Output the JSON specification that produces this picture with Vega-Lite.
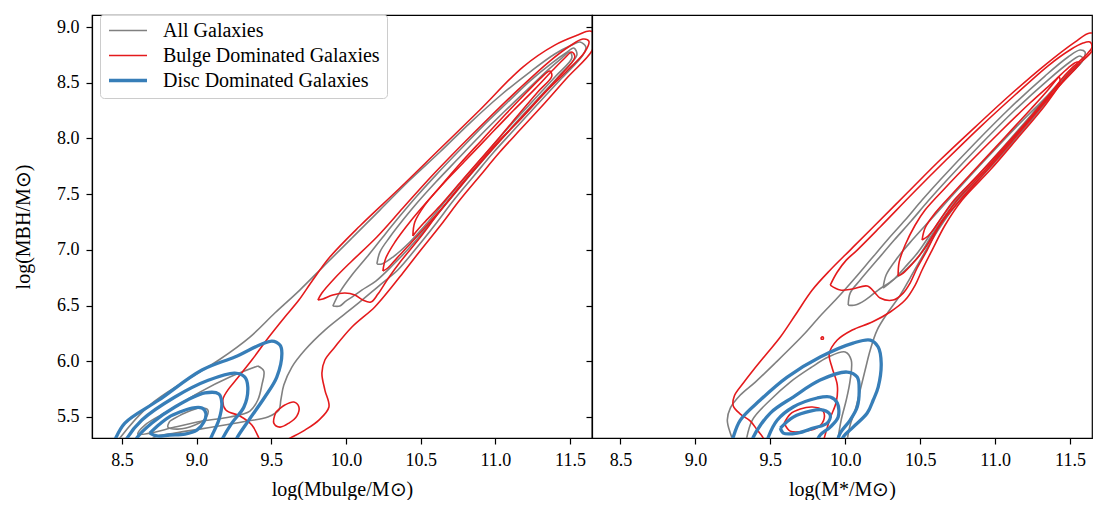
{
"$schema":"https://vega.github.io/schema/vega-lite/v6.json",
"padding":{"left":12,"top":12,"right":9,"bottom":0},
"bounds":"flush",
"spacing":0,
"config":{
"font":"Liberation Serif",
"view":{"stroke":"black","strokeWidth":1.2},
"axis":{"labelFont":"Liberation Serif","titleFont":"Liberation Serif","labelFontSize":18,"titleFontSize":20,"titleFontWeight":"normal","labelColor":"black","titleColor":"black","tickColor":"black","domainColor":"black","tickSize":6,"tickWidth":1.2,"domainWidth":1.2,"grid":false},
"axisX":{"labelPadding":7,"titlePadding":10},
"axisY":{"labelPadding":7,"titlePadding":23}
},
"datasets":{"c":[
{"p":"L","g":"A","id":"LG1","o":0,"x":8.453,"y":5.239},{"p":"L","g":"A","id":"LG1","o":1,"x":8.487,"y":5.311},{"p":"L","g":"A","id":"LG1","o":2,"x":8.687,"y":5.607},{"p":"L","g":"A","id":"LG1","o":3,"x":8.922,"y":5.822},{"p":"L","g":"A","id":"LG1","o":4,"x":9.149,"y":6.011},{"p":"L","g":"A","id":"LG1","o":5,"x":9.357,"y":6.217},{"p":"L","g":"A","id":"LG1","o":6,"x":9.524,"y":6.433},{"p":"L","g":"A","id":"LG1","o":7,"x":9.691,"y":6.639},{"p":"L","g":"A","id":"LG1","o":8,"x":9.859,"y":6.864},{"p":"L","g":"A","id":"LG1","o":9,"x":10.040,"y":7.106},{"p":"L","g":"A","id":"LG1","o":10,"x":10.227,"y":7.357},{"p":"L","g":"A","id":"LG1","o":11,"x":10.428,"y":7.627},{"p":"L","g":"A","id":"LG1","o":12,"x":10.629,"y":7.878},{"p":"L","g":"A","id":"LG1","o":13,"x":10.829,"y":8.138},{"p":"L","g":"A","id":"LG1","o":14,"x":11.030,"y":8.381},{"p":"L","g":"A","id":"LG1","o":15,"x":11.231,"y":8.596},{"p":"L","g":"A","id":"LG1","o":16,"x":11.398,"y":8.758},{"p":"L","g":"A","id":"LG1","o":17,"x":11.512,"y":8.838},{"p":"L","g":"A","id":"LG1","o":18,"x":11.566,"y":8.865},{"p":"L","g":"A","id":"LG1","o":19,"x":11.606,"y":8.821},{"p":"L","g":"A","id":"LG1","o":20,"x":11.586,"y":8.749},{"p":"L","g":"A","id":"LG1","o":21,"x":11.445,"y":8.542},{"p":"L","g":"A","id":"LG1","o":22,"x":11.284,"y":8.309},{"p":"L","g":"A","id":"LG1","o":23,"x":11.124,"y":8.075},{"p":"L","g":"A","id":"LG1","o":24,"x":10.990,"y":7.878},{"p":"L","g":"A","id":"LG1","o":25,"x":10.856,"y":7.663},{"p":"L","g":"A","id":"LG1","o":26,"x":10.722,"y":7.447},{"p":"L","g":"A","id":"LG1","o":27,"x":10.595,"y":7.223},{"p":"L","g":"A","id":"LG1","o":28,"x":10.461,"y":6.998},{"p":"L","g":"A","id":"LG1","o":29,"x":10.347,"y":6.819},{"p":"L","g":"A","id":"LG1","o":30,"x":10.227,"y":6.684},{"p":"L","g":"A","id":"LG1","o":31,"x":10.060,"y":6.496},{"p":"L","g":"A","id":"LG1","o":32,"x":9.859,"y":6.280},{"p":"L","g":"A","id":"LG1","o":33,"x":9.725,"y":6.101},{"p":"L","g":"A","id":"LG1","o":34,"x":9.638,"y":5.948},{"p":"L","g":"A","id":"LG1","o":35,"x":9.584,"y":5.786},{"p":"L","g":"A","id":"LG1","o":36,"x":9.564,"y":5.652},{"p":"L","g":"A","id":"LG1","o":37,"x":9.551,"y":5.562},{"p":"L","g":"A","id":"LG1","o":38,"x":9.477,"y":5.499},{"p":"L","g":"A","id":"LG1","o":39,"x":9.343,"y":5.463},{"p":"L","g":"A","id":"LG1","o":40,"x":9.189,"y":5.427},{"p":"L","g":"A","id":"LG1","o":41,"x":9.022,"y":5.391},{"p":"L","g":"A","id":"LG1","o":42,"x":8.855,"y":5.355},{"p":"L","g":"A","id":"LG1","o":43,"x":8.721,"y":5.320},{"p":"L","g":"A","id":"LG1","o":44,"x":8.654,"y":5.239},
{"p":"L","g":"A","id":"LG2","o":0,"x":9.912,"y":6.496},{"p":"L","g":"A","id":"LG2","o":1,"x":9.959,"y":6.621},{"p":"L","g":"A","id":"LG2","o":2,"x":10.040,"y":6.774},{"p":"L","g":"A","id":"LG2","o":3,"x":10.140,"y":6.935},{"p":"L","g":"A","id":"LG2","o":4,"x":10.247,"y":7.115},{"p":"L","g":"A","id":"LG2","o":5,"x":10.361,"y":7.303},{"p":"L","g":"A","id":"LG2","o":6,"x":10.475,"y":7.483},{"p":"L","g":"A","id":"LG2","o":7,"x":10.602,"y":7.671},{"p":"L","g":"A","id":"LG2","o":8,"x":10.749,"y":7.878},{"p":"L","g":"A","id":"LG2","o":9,"x":10.910,"y":8.102},{"p":"L","g":"A","id":"LG2","o":10,"x":11.077,"y":8.318},{"p":"L","g":"A","id":"LG2","o":11,"x":11.231,"y":8.515},{"p":"L","g":"A","id":"LG2","o":12,"x":11.378,"y":8.677},{"p":"L","g":"A","id":"LG2","o":13,"x":11.472,"y":8.767},{"p":"L","g":"A","id":"LG2","o":14,"x":11.525,"y":8.812},{"p":"L","g":"A","id":"LG2","o":15,"x":11.546,"y":8.749},{"p":"L","g":"A","id":"LG2","o":16,"x":11.432,"y":8.569},{"p":"L","g":"A","id":"LG2","o":17,"x":11.278,"y":8.345},{"p":"L","g":"A","id":"LG2","o":18,"x":11.124,"y":8.120},{"p":"L","g":"A","id":"LG2","o":19,"x":10.977,"y":7.896},{"p":"L","g":"A","id":"LG2","o":20,"x":10.843,"y":7.689},{"p":"L","g":"A","id":"LG2","o":21,"x":10.709,"y":7.474},{"p":"L","g":"A","id":"LG2","o":22,"x":10.575,"y":7.259},{"p":"L","g":"A","id":"LG2","o":23,"x":10.441,"y":7.043},{"p":"L","g":"A","id":"LG2","o":24,"x":10.314,"y":6.864},{"p":"L","g":"A","id":"LG2","o":25,"x":10.200,"y":6.720},{"p":"L","g":"A","id":"LG2","o":26,"x":10.106,"y":6.639},{"p":"L","g":"A","id":"LG2","o":27,"x":10.040,"y":6.576},{"p":"L","g":"A","id":"LG2","o":28,"x":9.999,"y":6.540},{"p":"L","g":"A","id":"LG2","o":29,"x":9.959,"y":6.496},{"p":"L","g":"A","id":"LG2","o":30,"x":9.912,"y":6.496},
{"p":"L","g":"A","id":"LG2b","o":0,"x":9.410,"y":5.957},{"p":"L","g":"A","id":"LG2b","o":1,"x":9.450,"y":5.912},{"p":"L","g":"A","id":"LG2b","o":2,"x":9.437,"y":5.786},{"p":"L","g":"A","id":"LG2b","o":3,"x":9.410,"y":5.652},{"p":"L","g":"A","id":"LG2b","o":4,"x":9.357,"y":5.553},{"p":"L","g":"A","id":"LG2b","o":5,"x":9.223,"y":5.499},{"p":"L","g":"A","id":"LG2b","o":6,"x":9.042,"y":5.463},{"p":"L","g":"A","id":"LG2b","o":7,"x":8.855,"y":5.409},{"p":"L","g":"A","id":"LG2b","o":8,"x":8.687,"y":5.355},{"p":"L","g":"A","id":"LG2b","o":9,"x":8.607,"y":5.346},{"p":"L","g":"A","id":"LG2b","o":10,"x":8.654,"y":5.427},{"p":"L","g":"A","id":"LG2b","o":11,"x":8.821,"y":5.562},{"p":"L","g":"A","id":"LG2b","o":12,"x":9.022,"y":5.723},{"p":"L","g":"A","id":"LG2b","o":13,"x":9.223,"y":5.858},{"p":"L","g":"A","id":"LG2b","o":14,"x":9.410,"y":5.957},
{"p":"L","g":"A","id":"LG3","o":0,"x":10.207,"y":6.873},{"p":"L","g":"A","id":"LG3","o":1,"x":10.227,"y":6.980},{"p":"L","g":"A","id":"LG3","o":2,"x":10.294,"y":7.115},{"p":"L","g":"A","id":"LG3","o":3,"x":10.381,"y":7.267},{"p":"L","g":"A","id":"LG3","o":4,"x":10.481,"y":7.429},{"p":"L","g":"A","id":"LG3","o":5,"x":10.602,"y":7.609},{"p":"L","g":"A","id":"LG3","o":6,"x":10.742,"y":7.806},{"p":"L","g":"A","id":"LG3","o":7,"x":10.896,"y":8.022},{"p":"L","g":"A","id":"LG3","o":8,"x":11.064,"y":8.246},{"p":"L","g":"A","id":"LG3","o":9,"x":11.218,"y":8.443},{"p":"L","g":"A","id":"LG3","o":10,"x":11.351,"y":8.614},{"p":"L","g":"A","id":"LG3","o":11,"x":11.445,"y":8.722},{"p":"L","g":"A","id":"LG3","o":12,"x":11.499,"y":8.776},{"p":"L","g":"A","id":"LG3","o":13,"x":11.512,"y":8.722},{"p":"L","g":"A","id":"LG3","o":14,"x":11.405,"y":8.560},{"p":"L","g":"A","id":"LG3","o":15,"x":11.251,"y":8.336},{"p":"L","g":"A","id":"LG3","o":16,"x":11.097,"y":8.111},{"p":"L","g":"A","id":"LG3","o":17,"x":10.956,"y":7.896},{"p":"L","g":"A","id":"LG3","o":18,"x":10.823,"y":7.689},{"p":"L","g":"A","id":"LG3","o":19,"x":10.689,"y":7.474},{"p":"L","g":"A","id":"LG3","o":20,"x":10.555,"y":7.259},{"p":"L","g":"A","id":"LG3","o":21,"x":10.428,"y":7.070},{"p":"L","g":"A","id":"LG3","o":22,"x":10.314,"y":6.935},{"p":"L","g":"A","id":"LG3","o":23,"x":10.240,"y":6.873},{"p":"L","g":"A","id":"LG3","o":24,"x":10.207,"y":6.873},
{"p":"L","g":"A","id":"LG3b","o":0,"x":8.821,"y":5.463},{"p":"L","g":"A","id":"LG3b","o":1,"x":8.922,"y":5.535},{"p":"L","g":"A","id":"LG3b","o":2,"x":9.022,"y":5.580},{"p":"L","g":"A","id":"LG3b","o":3,"x":9.076,"y":5.562},{"p":"L","g":"A","id":"LG3b","o":4,"x":9.062,"y":5.490},{"p":"L","g":"A","id":"LG3b","o":5,"x":8.989,"y":5.427},{"p":"L","g":"A","id":"LG3b","o":6,"x":8.875,"y":5.391},{"p":"L","g":"A","id":"LG3b","o":7,"x":8.808,"y":5.409},{"p":"L","g":"A","id":"LG3b","o":8,"x":8.821,"y":5.463},
{"p":"L","g":"B","id":"LR1","o":0,"x":9.437,"y":5.248},{"p":"L","g":"B","id":"LR1","o":1,"x":9.417,"y":5.311},{"p":"L","g":"B","id":"LR1","o":2,"x":9.370,"y":5.427},{"p":"L","g":"B","id":"LR1","o":3,"x":9.290,"y":5.508},{"p":"L","g":"B","id":"LR1","o":4,"x":9.196,"y":5.562},{"p":"L","g":"B","id":"LR1","o":5,"x":9.176,"y":5.652},{"p":"L","g":"B","id":"LR1","o":6,"x":9.209,"y":5.741},{"p":"L","g":"B","id":"LR1","o":7,"x":9.263,"y":5.831},{"p":"L","g":"B","id":"LR1","o":8,"x":9.370,"y":6.011},{"p":"L","g":"B","id":"LR1","o":9,"x":9.484,"y":6.217},{"p":"L","g":"B","id":"LR1","o":10,"x":9.591,"y":6.397},{"p":"L","g":"B","id":"LR1","o":11,"x":9.685,"y":6.549},{"p":"L","g":"B","id":"LR1","o":12,"x":9.778,"y":6.729},{"p":"L","g":"B","id":"LR1","o":13,"x":9.892,"y":6.935},{"p":"L","g":"B","id":"LR1","o":14,"x":10.093,"y":7.214},{"p":"L","g":"B","id":"LR1","o":15,"x":10.361,"y":7.555},{"p":"L","g":"B","id":"LR1","o":16,"x":10.635,"y":7.914},{"p":"L","g":"B","id":"LR1","o":17,"x":10.896,"y":8.255},{"p":"L","g":"B","id":"LR1","o":18,"x":11.184,"y":8.641},{"p":"L","g":"B","id":"LR1","o":19,"x":11.398,"y":8.838},{"p":"L","g":"B","id":"LR1","o":20,"x":11.552,"y":8.928},{"p":"L","g":"B","id":"LR1","o":21,"x":11.633,"y":8.964},{"p":"L","g":"B","id":"LR1","o":22,"x":11.673,"y":8.919},{"p":"L","g":"B","id":"LR1","o":23,"x":11.646,"y":8.785},{"p":"L","g":"B","id":"LR1","o":24,"x":11.485,"y":8.551},{"p":"L","g":"B","id":"LR1","o":25,"x":11.331,"y":8.318},{"p":"L","g":"B","id":"LR1","o":26,"x":11.164,"y":8.075},{"p":"L","g":"B","id":"LR1","o":27,"x":11.030,"y":7.878},{"p":"L","g":"B","id":"LR1","o":28,"x":10.896,"y":7.663},{"p":"L","g":"B","id":"LR1","o":29,"x":10.762,"y":7.447},{"p":"L","g":"B","id":"LR1","o":30,"x":10.635,"y":7.223},{"p":"L","g":"B","id":"LR1","o":31,"x":10.501,"y":6.998},{"p":"L","g":"B","id":"LR1","o":32,"x":10.381,"y":6.792},{"p":"L","g":"B","id":"LR1","o":33,"x":10.301,"y":6.657},{"p":"L","g":"B","id":"LR1","o":34,"x":10.193,"y":6.487},{"p":"L","g":"B","id":"LR1","o":35,"x":10.040,"y":6.307},{"p":"L","g":"B","id":"LR1","o":36,"x":9.926,"y":6.128},{"p":"L","g":"B","id":"LR1","o":37,"x":9.859,"y":6.011},{"p":"L","g":"B","id":"LR1","o":38,"x":9.839,"y":5.894},{"p":"L","g":"B","id":"LR1","o":39,"x":9.859,"y":5.741},{"p":"L","g":"B","id":"LR1","o":40,"x":9.886,"y":5.589},{"p":"L","g":"B","id":"LR1","o":41,"x":9.819,"y":5.472},{"p":"L","g":"B","id":"LR1","o":42,"x":9.725,"y":5.382},{"p":"L","g":"B","id":"LR1","o":43,"x":9.604,"y":5.293},{"p":"L","g":"B","id":"LR1","o":44,"x":9.558,"y":5.248},
{"p":"L","g":"B","id":"LR2","o":0,"x":9.812,"y":6.549},{"p":"L","g":"B","id":"LR2","o":1,"x":9.839,"y":6.612},{"p":"L","g":"B","id":"LR2","o":2,"x":9.926,"y":6.747},{"p":"L","g":"B","id":"LR2","o":3,"x":10.026,"y":6.882},{"p":"L","g":"B","id":"LR2","o":4,"x":10.207,"y":7.115},{"p":"L","g":"B","id":"LR2","o":5,"x":10.381,"y":7.375},{"p":"L","g":"B","id":"LR2","o":6,"x":10.562,"y":7.645},{"p":"L","g":"B","id":"LR2","o":7,"x":10.762,"y":7.923},{"p":"L","g":"B","id":"LR2","o":8,"x":10.963,"y":8.192},{"p":"L","g":"B","id":"LR2","o":9,"x":11.164,"y":8.452},{"p":"L","g":"B","id":"LR2","o":10,"x":11.365,"y":8.695},{"p":"L","g":"B","id":"LR2","o":11,"x":11.499,"y":8.830},{"p":"L","g":"B","id":"LR2","o":12,"x":11.586,"y":8.892},{"p":"L","g":"B","id":"LR2","o":13,"x":11.626,"y":8.874},{"p":"L","g":"B","id":"LR2","o":14,"x":11.599,"y":8.776},{"p":"L","g":"B","id":"LR2","o":15,"x":11.485,"y":8.614},{"p":"L","g":"B","id":"LR2","o":16,"x":11.331,"y":8.408},{"p":"L","g":"B","id":"LR2","o":17,"x":11.164,"y":8.165},{"p":"L","g":"B","id":"LR2","o":18,"x":11.010,"y":7.959},{"p":"L","g":"B","id":"LR2","o":19,"x":10.876,"y":7.752},{"p":"L","g":"B","id":"LR2","o":20,"x":10.742,"y":7.537},{"p":"L","g":"B","id":"LR2","o":21,"x":10.615,"y":7.321},{"p":"L","g":"B","id":"LR2","o":22,"x":10.488,"y":7.097},{"p":"L","g":"B","id":"LR2","o":23,"x":10.368,"y":6.899},{"p":"L","g":"B","id":"LR2","o":24,"x":10.280,"y":6.738},{"p":"L","g":"B","id":"LR2","o":25,"x":10.214,"y":6.603},{"p":"L","g":"B","id":"LR2","o":26,"x":10.167,"y":6.531},{"p":"L","g":"B","id":"LR2","o":27,"x":10.113,"y":6.549},{"p":"L","g":"B","id":"LR2","o":28,"x":10.060,"y":6.594},{"p":"L","g":"B","id":"LR2","o":29,"x":9.993,"y":6.612},{"p":"L","g":"B","id":"LR2","o":30,"x":9.912,"y":6.594},{"p":"L","g":"B","id":"LR2","o":31,"x":9.845,"y":6.558},{"p":"L","g":"B","id":"LR2","o":32,"x":9.812,"y":6.549},
{"p":"L","g":"B","id":"LR2b","o":0,"x":9.531,"y":5.544},{"p":"L","g":"B","id":"LR2b","o":1,"x":9.591,"y":5.607},{"p":"L","g":"B","id":"LR2b","o":2,"x":9.651,"y":5.634},{"p":"L","g":"B","id":"LR2b","o":3,"x":9.685,"y":5.589},{"p":"L","g":"B","id":"LR2b","o":4,"x":9.671,"y":5.508},{"p":"L","g":"B","id":"LR2b","o":5,"x":9.618,"y":5.445},{"p":"L","g":"B","id":"LR2b","o":6,"x":9.558,"y":5.409},{"p":"L","g":"B","id":"LR2b","o":7,"x":9.517,"y":5.445},{"p":"L","g":"B","id":"LR2b","o":8,"x":9.531,"y":5.544},
{"p":"L","g":"B","id":"LR3","o":0,"x":10.247,"y":6.810},{"p":"L","g":"B","id":"LR3","o":1,"x":10.267,"y":6.926},{"p":"L","g":"B","id":"LR3","o":2,"x":10.328,"y":7.070},{"p":"L","g":"B","id":"LR3","o":3,"x":10.428,"y":7.250},{"p":"L","g":"B","id":"LR3","o":4,"x":10.535,"y":7.420},{"p":"L","g":"B","id":"LR3","o":5,"x":10.662,"y":7.609},{"p":"L","g":"B","id":"LR3","o":6,"x":10.803,"y":7.806},{"p":"L","g":"B","id":"LR3","o":7,"x":10.963,"y":8.031},{"p":"L","g":"B","id":"LR3","o":8,"x":11.124,"y":8.255},{"p":"L","g":"B","id":"LR3","o":9,"x":11.264,"y":8.443},{"p":"L","g":"B","id":"LR3","o":10,"x":11.385,"y":8.614},{"p":"L","g":"B","id":"LR3","o":11,"x":11.465,"y":8.722},{"p":"L","g":"B","id":"LR3","o":12,"x":11.512,"y":8.776},{"p":"L","g":"B","id":"LR3","o":13,"x":11.532,"y":8.731},{"p":"L","g":"B","id":"LR3","o":14,"x":11.418,"y":8.542},{"p":"L","g":"B","id":"LR3","o":15,"x":11.264,"y":8.318},{"p":"L","g":"B","id":"LR3","o":16,"x":11.110,"y":8.093},{"p":"L","g":"B","id":"LR3","o":17,"x":10.970,"y":7.887},{"p":"L","g":"B","id":"LR3","o":18,"x":10.836,"y":7.680},{"p":"L","g":"B","id":"LR3","o":19,"x":10.702,"y":7.465},{"p":"L","g":"B","id":"LR3","o":20,"x":10.568,"y":7.259},{"p":"L","g":"B","id":"LR3","o":21,"x":10.441,"y":7.070},{"p":"L","g":"B","id":"LR3","o":22,"x":10.341,"y":6.926},{"p":"L","g":"B","id":"LR3","o":23,"x":10.280,"y":6.837},{"p":"L","g":"B","id":"LR3","o":24,"x":10.247,"y":6.810},
{"p":"L","g":"B","id":"LR4","o":0,"x":10.448,"y":7.124},{"p":"L","g":"B","id":"LR4","o":1,"x":10.461,"y":7.250},{"p":"L","g":"B","id":"LR4","o":2,"x":10.528,"y":7.402},{"p":"L","g":"B","id":"LR4","o":3,"x":10.629,"y":7.564},{"p":"L","g":"B","id":"LR4","o":4,"x":10.762,"y":7.770},{"p":"L","g":"B","id":"LR4","o":5,"x":10.916,"y":7.995},{"p":"L","g":"B","id":"LR4","o":6,"x":11.070,"y":8.219},{"p":"L","g":"B","id":"LR4","o":7,"x":11.211,"y":8.417},{"p":"L","g":"B","id":"LR4","o":8,"x":11.311,"y":8.551},{"p":"L","g":"B","id":"LR4","o":9,"x":11.365,"y":8.605},{"p":"L","g":"B","id":"LR4","o":10,"x":11.378,"y":8.560},{"p":"L","g":"B","id":"LR4","o":11,"x":11.284,"y":8.417},{"p":"L","g":"B","id":"LR4","o":12,"x":11.164,"y":8.228},{"p":"L","g":"B","id":"LR4","o":13,"x":11.030,"y":8.013},{"p":"L","g":"B","id":"LR4","o":14,"x":10.896,"y":7.806},{"p":"L","g":"B","id":"LR4","o":15,"x":10.762,"y":7.600},{"p":"L","g":"B","id":"LR4","o":16,"x":10.629,"y":7.393},{"p":"L","g":"B","id":"LR4","o":17,"x":10.521,"y":7.241},{"p":"L","g":"B","id":"LR4","o":18,"x":10.468,"y":7.160},{"p":"L","g":"B","id":"LR4","o":19,"x":10.448,"y":7.124},
{"p":"L","g":"D","id":"LB1","o":0,"x":8.440,"y":5.248},{"p":"L","g":"D","id":"LB1","o":1,"x":8.453,"y":5.293},{"p":"L","g":"D","id":"LB1","o":2,"x":8.520,"y":5.445},{"p":"L","g":"D","id":"LB1","o":3,"x":8.748,"y":5.652},{"p":"L","g":"D","id":"LB1","o":4,"x":9.036,"y":5.921},{"p":"L","g":"D","id":"LB1","o":5,"x":9.256,"y":6.038},{"p":"L","g":"D","id":"LB1","o":6,"x":9.504,"y":6.181},{"p":"L","g":"D","id":"LB1","o":7,"x":9.558,"y":6.145},{"p":"L","g":"D","id":"LB1","o":8,"x":9.571,"y":6.074},{"p":"L","g":"D","id":"LB1","o":9,"x":9.537,"y":5.858},{"p":"L","g":"D","id":"LB1","o":10,"x":9.457,"y":5.679},{"p":"L","g":"D","id":"LB1","o":11,"x":9.350,"y":5.472},{"p":"L","g":"D","id":"LB1","o":12,"x":9.270,"y":5.311},{"p":"L","g":"D","id":"LB1","o":13,"x":9.250,"y":5.248},
{"p":"L","g":"D","id":"LB2","o":0,"x":8.513,"y":5.248},{"p":"L","g":"D","id":"LB2","o":1,"x":8.527,"y":5.293},{"p":"L","g":"D","id":"LB2","o":2,"x":8.634,"y":5.472},{"p":"L","g":"D","id":"LB2","o":3,"x":8.855,"y":5.679},{"p":"L","g":"D","id":"LB2","o":4,"x":9.082,"y":5.831},{"p":"L","g":"D","id":"LB2","o":5,"x":9.256,"y":5.894},{"p":"L","g":"D","id":"LB2","o":6,"x":9.323,"y":5.858},{"p":"L","g":"D","id":"LB2","o":7,"x":9.343,"y":5.768},{"p":"L","g":"D","id":"LB2","o":8,"x":9.317,"y":5.589},{"p":"L","g":"D","id":"LB2","o":9,"x":9.236,"y":5.445},{"p":"L","g":"D","id":"LB2","o":10,"x":9.169,"y":5.293},{"p":"L","g":"D","id":"LB2","o":11,"x":9.156,"y":5.248},
{"p":"L","g":"D","id":"LB3","o":0,"x":8.580,"y":5.248},{"p":"L","g":"D","id":"LB3","o":1,"x":8.600,"y":5.311},{"p":"L","g":"D","id":"LB3","o":2,"x":8.701,"y":5.445},{"p":"L","g":"D","id":"LB3","o":3,"x":8.855,"y":5.589},{"p":"L","g":"D","id":"LB3","o":4,"x":9.056,"y":5.715},{"p":"L","g":"D","id":"LB3","o":5,"x":9.149,"y":5.706},{"p":"L","g":"D","id":"LB3","o":6,"x":9.169,"y":5.625},{"p":"L","g":"D","id":"LB3","o":7,"x":9.149,"y":5.472},{"p":"L","g":"D","id":"LB3","o":8,"x":9.096,"y":5.311},{"p":"L","g":"D","id":"LB3","o":9,"x":9.082,"y":5.248},
{"p":"L","g":"D","id":"LB4","o":0,"x":8.687,"y":5.355},{"p":"L","g":"D","id":"LB4","o":1,"x":8.754,"y":5.436},{"p":"L","g":"D","id":"LB4","o":2,"x":8.815,"y":5.499},{"p":"L","g":"D","id":"LB4","o":3,"x":8.888,"y":5.544},{"p":"L","g":"D","id":"LB4","o":4,"x":8.969,"y":5.580},{"p":"L","g":"D","id":"LB4","o":5,"x":9.036,"y":5.580},{"p":"L","g":"D","id":"LB4","o":6,"x":9.062,"y":5.535},{"p":"L","g":"D","id":"LB4","o":7,"x":9.049,"y":5.454},{"p":"L","g":"D","id":"LB4","o":8,"x":9.002,"y":5.382},{"p":"L","g":"D","id":"LB4","o":9,"x":8.922,"y":5.346},{"p":"L","g":"D","id":"LB4","o":10,"x":8.821,"y":5.338},{"p":"L","g":"D","id":"LB4","o":11,"x":8.734,"y":5.329},{"p":"L","g":"D","id":"LB4","o":12,"x":8.687,"y":5.355},
{"p":"R","g":"A","id":"RG1","o":0,"x":9.267,"y":5.239},{"p":"R","g":"A","id":"RG1","o":1,"x":9.233,"y":5.355},{"p":"R","g":"A","id":"RG1","o":2,"x":9.213,"y":5.472},{"p":"R","g":"A","id":"RG1","o":3,"x":9.233,"y":5.580},{"p":"R","g":"A","id":"RG1","o":4,"x":9.300,"y":5.697},{"p":"R","g":"A","id":"RG1","o":5,"x":9.400,"y":5.813},{"p":"R","g":"A","id":"RG1","o":6,"x":9.533,"y":5.984},{"p":"R","g":"A","id":"RG1","o":7,"x":9.720,"y":6.235},{"p":"R","g":"A","id":"RG1","o":8,"x":9.833,"y":6.406},{"p":"R","g":"A","id":"RG1","o":9,"x":9.947,"y":6.567},{"p":"R","g":"A","id":"RG1","o":10,"x":10.060,"y":6.738},{"p":"R","g":"A","id":"RG1","o":11,"x":10.173,"y":6.917},{"p":"R","g":"A","id":"RG1","o":12,"x":10.287,"y":7.097},{"p":"R","g":"A","id":"RG1","o":13,"x":10.400,"y":7.267},{"p":"R","g":"A","id":"RG1","o":14,"x":10.513,"y":7.447},{"p":"R","g":"A","id":"RG1","o":15,"x":10.633,"y":7.627},{"p":"R","g":"A","id":"RG1","o":16,"x":10.867,"y":7.959},{"p":"R","g":"A","id":"RG1","o":17,"x":11.100,"y":8.273},{"p":"R","g":"A","id":"RG1","o":18,"x":11.333,"y":8.560},{"p":"R","g":"A","id":"RG1","o":19,"x":11.487,"y":8.731},{"p":"R","g":"A","id":"RG1","o":20,"x":11.567,"y":8.794},{"p":"R","g":"A","id":"RG1","o":21,"x":11.600,"y":8.776},{"p":"R","g":"A","id":"RG1","o":22,"x":11.587,"y":8.704},{"p":"R","g":"A","id":"RG1","o":23,"x":11.460,"y":8.524},{"p":"R","g":"A","id":"RG1","o":24,"x":11.287,"y":8.237},{"p":"R","g":"A","id":"RG1","o":25,"x":11.107,"y":7.950},{"p":"R","g":"A","id":"RG1","o":26,"x":10.927,"y":7.680},{"p":"R","g":"A","id":"RG1","o":27,"x":10.740,"y":7.402},{"p":"R","g":"A","id":"RG1","o":28,"x":10.620,"y":7.178},{"p":"R","g":"A","id":"RG1","o":29,"x":10.520,"y":6.953},{"p":"R","g":"A","id":"RG1","o":30,"x":10.433,"y":6.747},{"p":"R","g":"A","id":"RG1","o":31,"x":10.367,"y":6.594},{"p":"R","g":"A","id":"RG1","o":32,"x":10.287,"y":6.442},{"p":"R","g":"A","id":"RG1","o":33,"x":10.213,"y":6.280},{"p":"R","g":"A","id":"RG1","o":34,"x":10.167,"y":6.101},{"p":"R","g":"A","id":"RG1","o":35,"x":10.133,"y":5.921},{"p":"R","g":"A","id":"RG1","o":36,"x":10.100,"y":5.741},{"p":"R","g":"A","id":"RG1","o":37,"x":10.067,"y":5.562},{"p":"R","g":"A","id":"RG1","o":38,"x":10.033,"y":5.427},{"p":"R","g":"A","id":"RG1","o":39,"x":10.013,"y":5.293},{"p":"R","g":"A","id":"RG1","o":40,"x":10.007,"y":5.239},
{"p":"R","g":"A","id":"RG2","o":0,"x":10.020,"y":6.504},{"p":"R","g":"A","id":"RG2","o":1,"x":10.033,"y":6.612},{"p":"R","g":"A","id":"RG2","o":2,"x":10.100,"y":6.729},{"p":"R","g":"A","id":"RG2","o":3,"x":10.213,"y":6.908},{"p":"R","g":"A","id":"RG2","o":4,"x":10.327,"y":7.088},{"p":"R","g":"A","id":"RG2","o":5,"x":10.440,"y":7.259},{"p":"R","g":"A","id":"RG2","o":6,"x":10.553,"y":7.438},{"p":"R","g":"A","id":"RG2","o":7,"x":10.673,"y":7.618},{"p":"R","g":"A","id":"RG2","o":8,"x":10.900,"y":7.941},{"p":"R","g":"A","id":"RG2","o":9,"x":11.133,"y":8.255},{"p":"R","g":"A","id":"RG2","o":10,"x":11.353,"y":8.524},{"p":"R","g":"A","id":"RG2","o":11,"x":11.500,"y":8.686},{"p":"R","g":"A","id":"RG2","o":12,"x":11.567,"y":8.740},{"p":"R","g":"A","id":"RG2","o":13,"x":11.587,"y":8.713},{"p":"R","g":"A","id":"RG2","o":14,"x":11.560,"y":8.659},{"p":"R","g":"A","id":"RG2","o":15,"x":11.427,"y":8.488},{"p":"R","g":"A","id":"RG2","o":16,"x":11.253,"y":8.210},{"p":"R","g":"A","id":"RG2","o":17,"x":11.073,"y":7.923},{"p":"R","g":"A","id":"RG2","o":18,"x":10.893,"y":7.654},{"p":"R","g":"A","id":"RG2","o":19,"x":10.707,"y":7.375},{"p":"R","g":"A","id":"RG2","o":20,"x":10.587,"y":7.151},{"p":"R","g":"A","id":"RG2","o":21,"x":10.487,"y":6.935},{"p":"R","g":"A","id":"RG2","o":22,"x":10.387,"y":6.801},{"p":"R","g":"A","id":"RG2","o":23,"x":10.300,"y":6.711},{"p":"R","g":"A","id":"RG2","o":24,"x":10.220,"y":6.639},{"p":"R","g":"A","id":"RG2","o":25,"x":10.133,"y":6.549},{"p":"R","g":"A","id":"RG2","o":26,"x":10.067,"y":6.504},{"p":"R","g":"A","id":"RG2","o":27,"x":10.020,"y":6.504},
{"p":"R","g":"A","id":"RG2b","o":0,"x":9.333,"y":5.239},{"p":"R","g":"A","id":"RG2b","o":1,"x":9.380,"y":5.472},{"p":"R","g":"A","id":"RG2b","o":2,"x":9.500,"y":5.652},{"p":"R","g":"A","id":"RG2b","o":3,"x":9.633,"y":5.813},{"p":"R","g":"A","id":"RG2b","o":4,"x":9.767,"y":5.939},{"p":"R","g":"A","id":"RG2b","o":5,"x":9.887,"y":6.038},{"p":"R","g":"A","id":"RG2b","o":6,"x":10.000,"y":6.083},{"p":"R","g":"A","id":"RG2b","o":7,"x":10.040,"y":6.011},{"p":"R","g":"A","id":"RG2b","o":8,"x":10.033,"y":5.831},{"p":"R","g":"A","id":"RG2b","o":9,"x":10.007,"y":5.652},{"p":"R","g":"A","id":"RG2b","o":10,"x":9.973,"y":5.472},{"p":"R","g":"A","id":"RG2b","o":11,"x":9.953,"y":5.311},{"p":"R","g":"A","id":"RG2b","o":12,"x":9.947,"y":5.239},
{"p":"R","g":"A","id":"RG3","o":0,"x":10.253,"y":6.657},{"p":"R","g":"A","id":"RG3","o":1,"x":10.273,"y":6.774},{"p":"R","g":"A","id":"RG3","o":2,"x":10.347,"y":6.926},{"p":"R","g":"A","id":"RG3","o":3,"x":10.447,"y":7.088},{"p":"R","g":"A","id":"RG3","o":4,"x":10.567,"y":7.267},{"p":"R","g":"A","id":"RG3","o":5,"x":10.700,"y":7.465},{"p":"R","g":"A","id":"RG3","o":6,"x":10.920,"y":7.788},{"p":"R","g":"A","id":"RG3","o":7,"x":11.147,"y":8.111},{"p":"R","g":"A","id":"RG3","o":8,"x":11.353,"y":8.390},{"p":"R","g":"A","id":"RG3","o":9,"x":11.473,"y":8.569},{"p":"R","g":"A","id":"RG3","o":10,"x":11.527,"y":8.650},{"p":"R","g":"A","id":"RG3","o":11,"x":11.553,"y":8.668},{"p":"R","g":"A","id":"RG3","o":12,"x":11.527,"y":8.614},{"p":"R","g":"A","id":"RG3","o":13,"x":11.407,"y":8.470},{"p":"R","g":"A","id":"RG3","o":14,"x":11.247,"y":8.219},{"p":"R","g":"A","id":"RG3","o":15,"x":11.067,"y":7.941},{"p":"R","g":"A","id":"RG3","o":16,"x":10.887,"y":7.671},{"p":"R","g":"A","id":"RG3","o":17,"x":10.707,"y":7.402},{"p":"R","g":"A","id":"RG3","o":18,"x":10.587,"y":7.178},{"p":"R","g":"A","id":"RG3","o":19,"x":10.487,"y":6.980},{"p":"R","g":"A","id":"RG3","o":20,"x":10.400,"y":6.846},{"p":"R","g":"A","id":"RG3","o":21,"x":10.313,"y":6.720},{"p":"R","g":"A","id":"RG3","o":22,"x":10.253,"y":6.657},
{"p":"R","g":"B","id":"RR1","o":0,"x":9.467,"y":5.248},{"p":"R","g":"B","id":"RR1","o":1,"x":9.453,"y":5.311},{"p":"R","g":"B","id":"RR1","o":2,"x":9.413,"y":5.382},{"p":"R","g":"B","id":"RR1","o":3,"x":9.367,"y":5.463},{"p":"R","g":"B","id":"RR1","o":4,"x":9.300,"y":5.526},{"p":"R","g":"B","id":"RR1","o":5,"x":9.253,"y":5.598},{"p":"R","g":"B","id":"RR1","o":6,"x":9.260,"y":5.688},{"p":"R","g":"B","id":"RR1","o":7,"x":9.320,"y":5.804},{"p":"R","g":"B","id":"RR1","o":8,"x":9.387,"y":5.921},{"p":"R","g":"B","id":"RR1","o":9,"x":9.480,"y":6.074},{"p":"R","g":"B","id":"RR1","o":10,"x":9.567,"y":6.217},{"p":"R","g":"B","id":"RR1","o":11,"x":9.667,"y":6.415},{"p":"R","g":"B","id":"RR1","o":12,"x":9.780,"y":6.639},{"p":"R","g":"B","id":"RR1","o":13,"x":9.900,"y":6.819},{"p":"R","g":"B","id":"RR1","o":14,"x":10.033,"y":6.998},{"p":"R","g":"B","id":"RR1","o":15,"x":10.187,"y":7.205},{"p":"R","g":"B","id":"RR1","o":16,"x":10.413,"y":7.510},{"p":"R","g":"B","id":"RR1","o":17,"x":10.633,"y":7.806},{"p":"R","g":"B","id":"RR1","o":18,"x":10.867,"y":8.102},{"p":"R","g":"B","id":"RR1","o":19,"x":11.100,"y":8.390},{"p":"R","g":"B","id":"RR1","o":20,"x":11.333,"y":8.659},{"p":"R","g":"B","id":"RR1","o":21,"x":11.533,"y":8.865},{"p":"R","g":"B","id":"RR1","o":22,"x":11.633,"y":8.946},{"p":"R","g":"B","id":"RR1","o":23,"x":11.680,"y":8.919},{"p":"R","g":"B","id":"RR1","o":24,"x":11.647,"y":8.785},{"p":"R","g":"B","id":"RR1","o":25,"x":11.500,"y":8.596},{"p":"R","g":"B","id":"RR1","o":26,"x":11.320,"y":8.273},{"p":"R","g":"B","id":"RR1","o":27,"x":11.140,"y":7.986},{"p":"R","g":"B","id":"RR1","o":28,"x":10.967,"y":7.716},{"p":"R","g":"B","id":"RR1","o":29,"x":10.780,"y":7.447},{"p":"R","g":"B","id":"RR1","o":30,"x":10.667,"y":7.223},{"p":"R","g":"B","id":"RR1","o":31,"x":10.580,"y":6.998},{"p":"R","g":"B","id":"RR1","o":32,"x":10.513,"y":6.819},{"p":"R","g":"B","id":"RR1","o":33,"x":10.467,"y":6.684},{"p":"R","g":"B","id":"RR1","o":34,"x":10.400,"y":6.549},{"p":"R","g":"B","id":"RR1","o":35,"x":10.300,"y":6.442},{"p":"R","g":"B","id":"RR1","o":36,"x":10.180,"y":6.352},{"p":"R","g":"B","id":"RR1","o":37,"x":10.047,"y":6.280},{"p":"R","g":"B","id":"RR1","o":38,"x":9.947,"y":6.190},{"p":"R","g":"B","id":"RR1","o":39,"x":9.893,"y":6.065},{"p":"R","g":"B","id":"RR1","o":40,"x":9.913,"y":5.939},{"p":"R","g":"B","id":"RR1","o":41,"x":9.947,"y":5.786},{"p":"R","g":"B","id":"RR1","o":42,"x":9.940,"y":5.634},{"p":"R","g":"B","id":"RR1","o":43,"x":9.900,"y":5.490},{"p":"R","g":"B","id":"RR1","o":44,"x":9.860,"y":5.311},{"p":"R","g":"B","id":"RR1","o":45,"x":9.847,"y":5.248},
{"p":"R","g":"B","id":"RR2","o":0,"x":9.900,"y":6.684},{"p":"R","g":"B","id":"RR2","o":1,"x":9.947,"y":6.801},{"p":"R","g":"B","id":"RR2","o":2,"x":10.007,"y":6.908},{"p":"R","g":"B","id":"RR2","o":3,"x":10.080,"y":6.998},{"p":"R","g":"B","id":"RR2","o":4,"x":10.233,"y":7.205},{"p":"R","g":"B","id":"RR2","o":5,"x":10.453,"y":7.510},{"p":"R","g":"B","id":"RR2","o":6,"x":10.673,"y":7.806},{"p":"R","g":"B","id":"RR2","o":7,"x":10.900,"y":8.102},{"p":"R","g":"B","id":"RR2","o":8,"x":11.133,"y":8.390},{"p":"R","g":"B","id":"RR2","o":9,"x":11.360,"y":8.659},{"p":"R","g":"B","id":"RR2","o":10,"x":11.500,"y":8.794},{"p":"R","g":"B","id":"RR2","o":11,"x":11.587,"y":8.856},{"p":"R","g":"B","id":"RR2","o":12,"x":11.633,"y":8.865},{"p":"R","g":"B","id":"RR2","o":13,"x":11.647,"y":8.821},{"p":"R","g":"B","id":"RR2","o":14,"x":11.620,"y":8.767},{"p":"R","g":"B","id":"RR2","o":15,"x":11.467,"y":8.569},{"p":"R","g":"B","id":"RR2","o":16,"x":11.300,"y":8.273},{"p":"R","g":"B","id":"RR2","o":17,"x":11.120,"y":7.986},{"p":"R","g":"B","id":"RR2","o":18,"x":10.947,"y":7.716},{"p":"R","g":"B","id":"RR2","o":19,"x":10.767,"y":7.447},{"p":"R","g":"B","id":"RR2","o":20,"x":10.633,"y":7.223},{"p":"R","g":"B","id":"RR2","o":21,"x":10.547,"y":6.998},{"p":"R","g":"B","id":"RR2","o":22,"x":10.480,"y":6.837},{"p":"R","g":"B","id":"RR2","o":23,"x":10.433,"y":6.702},{"p":"R","g":"B","id":"RR2","o":24,"x":10.387,"y":6.612},{"p":"R","g":"B","id":"RR2","o":25,"x":10.320,"y":6.549},{"p":"R","g":"B","id":"RR2","o":26,"x":10.233,"y":6.567},{"p":"R","g":"B","id":"RR2","o":27,"x":10.200,"y":6.612},{"p":"R","g":"B","id":"RR2","o":28,"x":10.147,"y":6.675},{"p":"R","g":"B","id":"RR2","o":29,"x":10.047,"y":6.648},{"p":"R","g":"B","id":"RR2","o":30,"x":9.967,"y":6.639},{"p":"R","g":"B","id":"RR2","o":31,"x":9.900,"y":6.684},
{"p":"R","g":"B","id":"RR2b","o":0,"x":9.593,"y":5.445},{"p":"R","g":"B","id":"RR2b","o":1,"x":9.633,"y":5.526},{"p":"R","g":"B","id":"RR2b","o":2,"x":9.700,"y":5.571},{"p":"R","g":"B","id":"RR2b","o":3,"x":9.780,"y":5.589},{"p":"R","g":"B","id":"RR2b","o":4,"x":9.847,"y":5.562},{"p":"R","g":"B","id":"RR2b","o":5,"x":9.860,"y":5.490},{"p":"R","g":"B","id":"RR2b","o":6,"x":9.820,"y":5.409},{"p":"R","g":"B","id":"RR2b","o":7,"x":9.733,"y":5.373},{"p":"R","g":"B","id":"RR2b","o":8,"x":9.633,"y":5.373},{"p":"R","g":"B","id":"RR2b","o":9,"x":9.593,"y":5.445},
{"p":"R","g":"B","id":"RR2c","o":0,"x":9.840,"y":6.217},{"p":"R","g":"B","id":"RR2c","o":1,"x":9.853,"y":6.217},{"p":"R","g":"B","id":"RR2c","o":2,"x":9.853,"y":6.199},{"p":"R","g":"B","id":"RR2c","o":3,"x":9.840,"y":6.199},{"p":"R","g":"B","id":"RR2c","o":4,"x":9.840,"y":6.217},
{"p":"R","g":"B","id":"RR3","o":0,"x":10.353,"y":6.765},{"p":"R","g":"B","id":"RR3","o":1,"x":10.360,"y":6.890},{"p":"R","g":"B","id":"RR3","o":2,"x":10.400,"y":7.043},{"p":"R","g":"B","id":"RR3","o":3,"x":10.467,"y":7.223},{"p":"R","g":"B","id":"RR3","o":4,"x":10.533,"y":7.357},{"p":"R","g":"B","id":"RR3","o":5,"x":10.667,"y":7.555},{"p":"R","g":"B","id":"RR3","o":6,"x":10.833,"y":7.788},{"p":"R","g":"B","id":"RR3","o":7,"x":11.033,"y":8.058},{"p":"R","g":"B","id":"RR3","o":8,"x":11.233,"y":8.318},{"p":"R","g":"B","id":"RR3","o":9,"x":11.380,"y":8.497},{"p":"R","g":"B","id":"RR3","o":10,"x":11.487,"y":8.632},{"p":"R","g":"B","id":"RR3","o":11,"x":11.547,"y":8.686},{"p":"R","g":"B","id":"RR3","o":12,"x":11.567,"y":8.677},{"p":"R","g":"B","id":"RR3","o":13,"x":11.553,"y":8.650},{"p":"R","g":"B","id":"RR3","o":14,"x":11.447,"y":8.497},{"p":"R","g":"B","id":"RR3","o":15,"x":11.287,"y":8.255},{"p":"R","g":"B","id":"RR3","o":16,"x":11.107,"y":7.986},{"p":"R","g":"B","id":"RR3","o":17,"x":10.933,"y":7.716},{"p":"R","g":"B","id":"RR3","o":18,"x":10.747,"y":7.447},{"p":"R","g":"B","id":"RR3","o":19,"x":10.633,"y":7.232},{"p":"R","g":"B","id":"RR3","o":20,"x":10.533,"y":7.016},{"p":"R","g":"B","id":"RR3","o":21,"x":10.447,"y":6.873},{"p":"R","g":"B","id":"RR3","o":22,"x":10.387,"y":6.792},{"p":"R","g":"B","id":"RR3","o":23,"x":10.353,"y":6.765},
{"p":"R","g":"B","id":"RR4","o":0,"x":10.513,"y":7.088},{"p":"R","g":"B","id":"RR4","o":1,"x":10.533,"y":7.196},{"p":"R","g":"B","id":"RR4","o":2,"x":10.600,"y":7.330},{"p":"R","g":"B","id":"RR4","o":3,"x":10.720,"y":7.510},{"p":"R","g":"B","id":"RR4","o":4,"x":10.887,"y":7.752},{"p":"R","g":"B","id":"RR4","o":5,"x":11.067,"y":8.013},{"p":"R","g":"B","id":"RR4","o":6,"x":11.233,"y":8.255},{"p":"R","g":"B","id":"RR4","o":7,"x":11.353,"y":8.435},{"p":"R","g":"B","id":"RR4","o":8,"x":11.407,"y":8.524},{"p":"R","g":"B","id":"RR4","o":9,"x":11.427,"y":8.551},{"p":"R","g":"B","id":"RR4","o":10,"x":11.433,"y":8.506},{"p":"R","g":"B","id":"RR4","o":11,"x":11.353,"y":8.381},{"p":"R","g":"B","id":"RR4","o":12,"x":11.220,"y":8.165},{"p":"R","g":"B","id":"RR4","o":13,"x":11.053,"y":7.914},{"p":"R","g":"B","id":"RR4","o":14,"x":10.887,"y":7.671},{"p":"R","g":"B","id":"RR4","o":15,"x":10.727,"y":7.447},{"p":"R","g":"B","id":"RR4","o":16,"x":10.640,"y":7.285},{"p":"R","g":"B","id":"RR4","o":17,"x":10.587,"y":7.178},{"p":"R","g":"B","id":"RR4","o":18,"x":10.553,"y":7.124},{"p":"R","g":"B","id":"RR4","o":19,"x":10.513,"y":7.088},
{"p":"R","g":"D","id":"RB1","o":0,"x":9.240,"y":5.248},{"p":"R","g":"D","id":"RB1","o":1,"x":9.253,"y":5.320},{"p":"R","g":"D","id":"RB1","o":2,"x":9.300,"y":5.472},{"p":"R","g":"D","id":"RB1","o":3,"x":9.433,"y":5.652},{"p":"R","g":"D","id":"RB1","o":4,"x":9.613,"y":5.858},{"p":"R","g":"D","id":"RB1","o":5,"x":9.833,"y":6.038},{"p":"R","g":"D","id":"RB1","o":6,"x":10.053,"y":6.163},{"p":"R","g":"D","id":"RB1","o":7,"x":10.167,"y":6.190},{"p":"R","g":"D","id":"RB1","o":8,"x":10.220,"y":6.128},{"p":"R","g":"D","id":"RB1","o":9,"x":10.240,"y":5.984},{"p":"R","g":"D","id":"RB1","o":10,"x":10.220,"y":5.768},{"p":"R","g":"D","id":"RB1","o":11,"x":10.187,"y":5.652},{"p":"R","g":"D","id":"RB1","o":12,"x":10.147,"y":5.535},{"p":"R","g":"D","id":"RB1","o":13,"x":10.053,"y":5.409},{"p":"R","g":"D","id":"RB1","o":14,"x":9.987,"y":5.320},{"p":"R","g":"D","id":"RB1","o":15,"x":9.967,"y":5.248},
{"p":"R","g":"D","id":"RB2","o":0,"x":9.373,"y":5.248},{"p":"R","g":"D","id":"RB2","o":1,"x":9.387,"y":5.320},{"p":"R","g":"D","id":"RB2","o":2,"x":9.500,"y":5.535},{"p":"R","g":"D","id":"RB2","o":3,"x":9.653,"y":5.679},{"p":"R","g":"D","id":"RB2","o":4,"x":9.833,"y":5.831},{"p":"R","g":"D","id":"RB2","o":5,"x":10.013,"y":5.903},{"p":"R","g":"D","id":"RB2","o":6,"x":10.080,"y":5.858},{"p":"R","g":"D","id":"RB2","o":7,"x":10.093,"y":5.741},{"p":"R","g":"D","id":"RB2","o":8,"x":10.080,"y":5.589},{"p":"R","g":"D","id":"RB2","o":9,"x":10.033,"y":5.472},{"p":"R","g":"D","id":"RB2","o":10,"x":9.967,"y":5.355},{"p":"R","g":"D","id":"RB2","o":11,"x":9.940,"y":5.248},
{"p":"R","g":"D","id":"RB3","o":0,"x":9.473,"y":5.248},{"p":"R","g":"D","id":"RB3","o":1,"x":9.487,"y":5.320},{"p":"R","g":"D","id":"RB3","o":2,"x":9.547,"y":5.472},{"p":"R","g":"D","id":"RB3","o":3,"x":9.653,"y":5.589},{"p":"R","g":"D","id":"RB3","o":4,"x":9.813,"y":5.670},{"p":"R","g":"D","id":"RB3","o":5,"x":9.900,"y":5.679},{"p":"R","g":"D","id":"RB3","o":6,"x":9.947,"y":5.625},{"p":"R","g":"D","id":"RB3","o":7,"x":9.953,"y":5.499},{"p":"R","g":"D","id":"RB3","o":8,"x":9.900,"y":5.409},{"p":"R","g":"D","id":"RB3","o":9,"x":9.833,"y":5.338},{"p":"R","g":"D","id":"RB3","o":10,"x":9.800,"y":5.248},
{"p":"R","g":"D","id":"RB4","o":0,"x":9.567,"y":5.400},{"p":"R","g":"D","id":"RB4","o":1,"x":9.653,"y":5.499},{"p":"R","g":"D","id":"RB4","o":2,"x":9.767,"y":5.553},{"p":"R","g":"D","id":"RB4","o":3,"x":9.853,"y":5.562},{"p":"R","g":"D","id":"RB4","o":4,"x":9.900,"y":5.517},{"p":"R","g":"D","id":"RB4","o":5,"x":9.880,"y":5.445},{"p":"R","g":"D","id":"RB4","o":6,"x":9.787,"y":5.400},{"p":"R","g":"D","id":"RB4","o":7,"x":9.680,"y":5.355},{"p":"R","g":"D","id":"RB4","o":8,"x":9.587,"y":5.355},{"p":"R","g":"D","id":"RB4","o":9,"x":9.567,"y":5.400}
]},
"resolve":{"scale":{"x":"independent","y":"independent","color":"independent","strokeWidth":"independent"}},
"hconcat":[
{
"width":500,"height":423,
"data":{"name":"c"},
"transform":[{"filter":"datum.p=='L'"}],
"encoding":{
"x":{"field":"x","type":"quantitative","scale":{"domain":[8.3,11.647],"nice":false,"zero":false},"axis":{"values":[8.5,9,9.5,10,10.5,11,11.5],"format":".1f","title":"log(Mbulge/M⊙)"}},
"y":{"field":"y","type":"quantitative","scale":{"domain":[5.311,9.108],"nice":false,"zero":false},"axis":{"values":[5.5,6,6.5,7,7.5,8,8.5,9],"format":".1f","title":"log(MBH/M⊙)"}},
"detail":{"field":"id"},
"order":{"field":"o","type":"quantitative"},
"color":{"field":"g","type":"nominal","scale":{"domain":["A","B","D"],"range":["#808080","#e41a1c","#377eb8"]},
"legend":{"title":null,"orient":"none","legendX":8,"legendY":-1,"symbolType":"stroke","symbolSize":1444,"clipHeight":19,"labelExpr":"datum.value=='A'?'All Galaxies':datum.value=='B'?'Bulge Dominated Galaxies':'Disc Dominated Galaxies'","labelFont":"Liberation Serif","labelFontSize":20,"labelLimit":400,"labelColor":"black","labelOffset":14,"fillColor":"rgba(255,255,255,0.85)","strokeColor":"#cccccc","cornerRadius":4,"padding":7,"rowPadding":4}},
"strokeWidth":{"field":"g","type":"nominal","scale":{"type":"ordinal","domain":["A","B","D"],"range":[1.6,1.6,3.3]},"legend":{"title":null}}
},
"layer":[
{"transform":[{"filter":"datum.g=='A'"}],"mark":{"type":"line","clip":true,"interpolate":"catmull-rom"}},
{"transform":[{"filter":"datum.g=='B'"}],"mark":{"type":"line","clip":true,"interpolate":"catmull-rom"}},
{"transform":[{"filter":"datum.g=='D'"}],"mark":{"type":"line","clip":true,"interpolate":"catmull-rom"}}
]
},
{
"width":500,"height":423,
"data":{"name":"c"},
"transform":[{"filter":"datum.p=='R'"}],
"encoding":{
"x":{"field":"x","type":"quantitative","scale":{"domain":[8.31,11.647],"nice":false,"zero":false},"axis":{"values":[8.5,9,9.5,10,10.5,11,11.5],"format":".1f","title":"log(M*/M⊙)"}},
"y":{"field":"y","type":"quantitative","scale":{"domain":[5.311,9.108],"nice":false,"zero":false},"axis":{"values":[5.5,6,6.5,7,7.5,8,8.5,9],"labels":false,"title":null}},
"detail":{"field":"id"},
"order":{"field":"o","type":"quantitative"},
"color":{"field":"g","type":"nominal","scale":{"domain":["A","B","D"],"range":["#808080","#e41a1c","#377eb8"]},"legend":null},
"strokeWidth":{"field":"g","type":"nominal","scale":{"type":"ordinal","domain":["A","B","D"],"range":[1.6,1.6,3.3]},"legend":null}
},
"layer":[
{"transform":[{"filter":"datum.g=='A'"}],"mark":{"type":"line","clip":true,"interpolate":"catmull-rom"}},
{"transform":[{"filter":"datum.g=='B'"}],"mark":{"type":"line","clip":true,"interpolate":"catmull-rom"}},
{"transform":[{"filter":"datum.g=='D'"}],"mark":{"type":"line","clip":true,"interpolate":"catmull-rom"}}
]
}
]
}
